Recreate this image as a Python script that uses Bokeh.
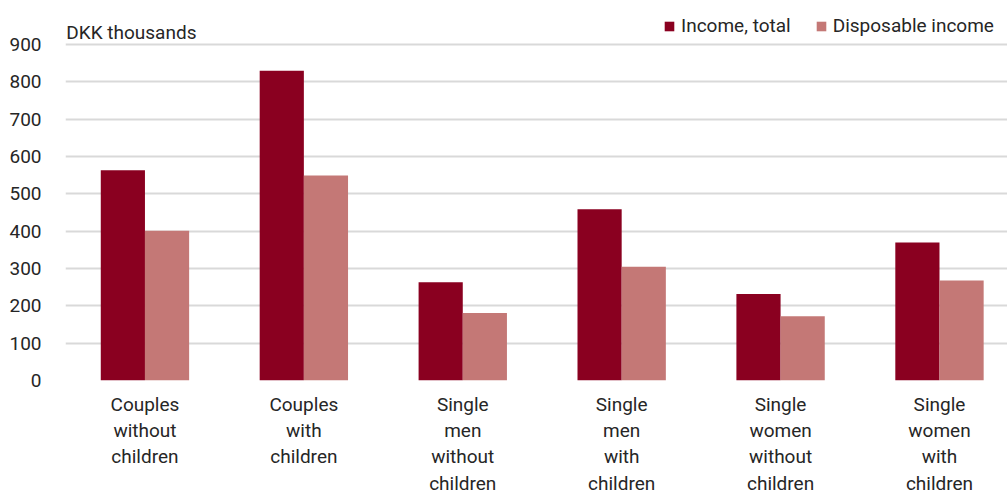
from bokeh.plotting import figure
from bokeh.models import (ColumnDataSource, Range1d, FixedTicker, Legend, LegendItem, Label)
from bokeh.embed import file_html
from bokeh.resources import INLINE
import numpy as np

categories = ["Couples\nwithout\nchildren", "Couples\nwith\nchildren",
              "Single\nmen\nwithout\nchildren", "Single\nmen\nwith\nchildren",
              "Single\nwomen\nwithout\nchildren", "Single\nwomen\nwith\nchildren"]
income_total = [563, 830, 263, 459, 232, 370]
disposable_income = [401, 549, 181, 305, 172, 268]
y_ticks = [0, 100, 200, 300, 400, 500, 600, 700, 800, 900]
series_names = ["Income, total", "Disposable income"]
colors = ["#8A0020", "#C47876"]

FONT = "Roboto"
TXT = "#262626"
FS = "19px"

pos = np.arange(len(categories)) + 0.5
bw = 0.278
src = ColumnDataSource(dict(x1=pos - bw / 2, x2=pos + bw / 2,
                            inc=income_total, disp=disposable_income))

p = figure(width=1007, height=497, output_backend="svg", toolbar_location=None,
           x_range=Range1d(0, 5.928), y_range=Range1d(0, 1018),
           min_border_left=65, min_border_right=0, min_border_top=0, min_border_bottom=117)
p.outline_line_color = None
p.background_fill_color = "white"
p.border_fill_color = "white"

r1 = p.vbar(x="x1", top="inc", width=bw, source=src, fill_color=colors[0], line_color=None)
r2 = p.vbar(x="x2", top="disp", width=bw, source=src, fill_color=colors[1], line_color=None)

p.xgrid.grid_line_color = None
p.ygrid.grid_line_color = "#D9D9D9"
p.ygrid.grid_line_width = 2
p.ygrid.ticker = FixedTicker(ticks=y_ticks)

p.yaxis.ticker = FixedTicker(ticks=y_ticks)
p.yaxis.axis_line_color = None
p.yaxis.major_tick_line_color = None
p.yaxis.minor_tick_line_color = None
p.yaxis.major_label_standoff = 18
p.yaxis.major_label_text_font = FONT
p.yaxis.major_label_text_font_size = FS
p.yaxis.major_label_text_color = TXT

p.xaxis.ticker = FixedTicker(ticks=list(pos))
p.xaxis.major_label_overrides = {float(v): c for v, c in zip(pos, categories)}
p.xaxis.axis_line_color = None
p.xaxis.major_tick_line_color = None
p.xaxis.minor_tick_line_color = None
p.xaxis.major_label_standoff = 6
p.xaxis.major_label_text_font = FONT
p.xaxis.major_label_text_font_size = FS
p.xaxis.major_label_text_color = TXT
p.xaxis.major_label_text_line_height = 1.15

legend = Legend(items=[LegendItem(label=series_names[0], renderers=[r1]),
                       LegendItem(label=series_names[1], renderers=[r2])],
                location=(598, 343), orientation="horizontal",
                glyph_width=12, glyph_height=12, label_standoff=6, spacing=24,
                padding=0, margin=0,
                border_line_color=None, background_fill_alpha=0,
                label_text_font=FONT, label_text_font_size=FS, label_text_color=TXT)
p.add_layout(legend)

p.add_layout(Label(x=0.005, y=932, text="DKK thousands", text_font=FONT,
                   text_font_size=FS, text_color=TXT, text_baseline="alphabetic"))

open("out.html", "w").write(file_html(p, INLINE))
